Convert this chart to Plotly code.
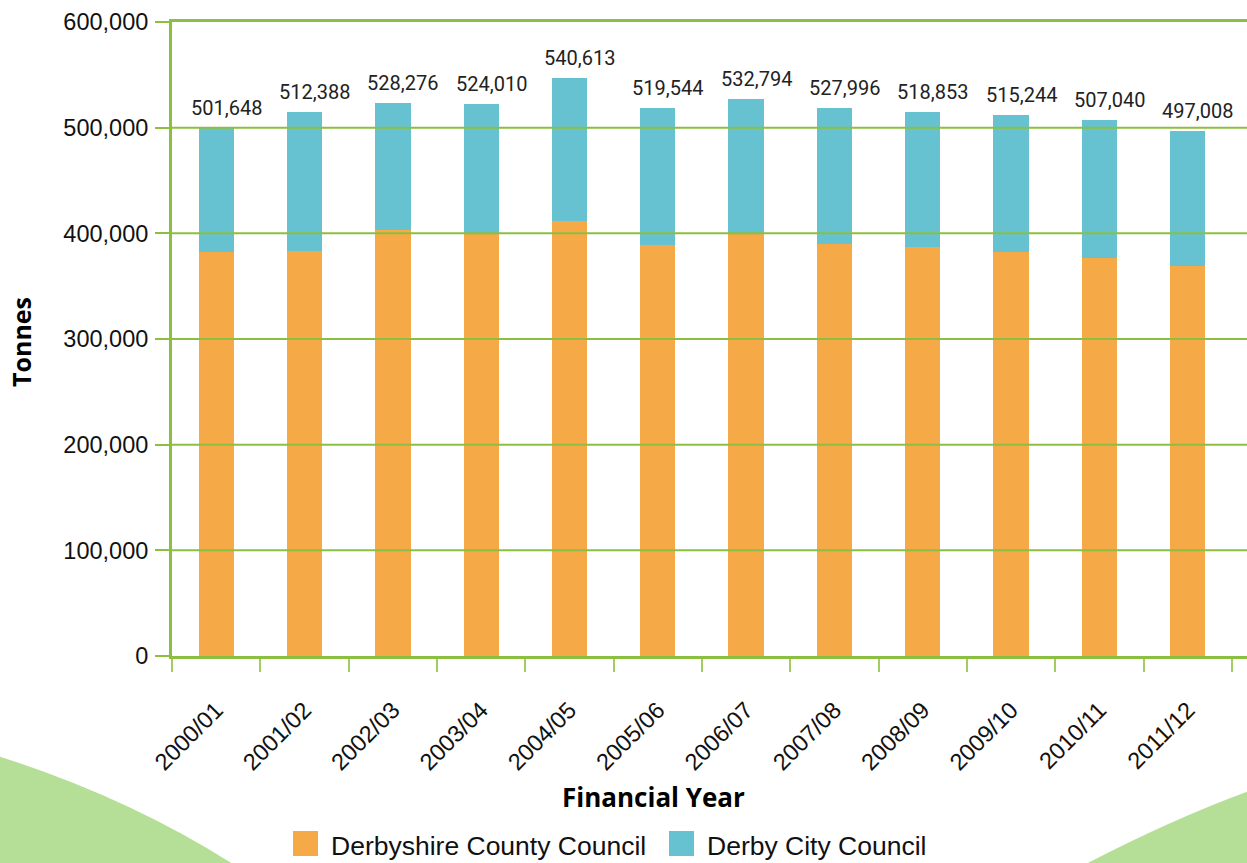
import plotly.graph_objects as go

years = ["2000/01", "2001/02", "2002/03", "2003/04", "2004/05", "2005/06",
         "2006/07", "2007/08", "2008/09", "2009/10", "2010/11", "2011/12"]
derbyshire = [382600, 383600, 403100, 399300, 411700, 388900,
              400000, 390200, 387100, 382600, 376900, 369400]
derby_city = [117400, 131200, 119900, 123000, 135600, 129700,
              127100, 128700, 127700, 129400, 130300, 127400]
total_labels = ["501,648", "512,388", "528,276", "524,010", "540,613", "519,544",
                "532,794", "527,996", "518,853", "515,244", "507,040", "497,008"]
y_ticks = [0, 100000, 200000, 300000, 400000, 500000, 600000]

# body margin is removed by post_script, so the figure fills the page
W, H = 1247, 863
PL, PT, PR, PB = 172, 22, 1247, 656          # plot area in page pixels
L, T = PL, PT
R, B = W - PR, H - PB
PW, PH = PR - PL, PB - PT

def px(x):
    return (x - PL) / PW

def py(y):
    return (PB - y) / PH

GREEN = "#8CBF3F"
TICKGREEN = "#A3CE5E"
ORANGE = "#F5A947"
TEAL = "#66C2D1"
LIGHTGREEN = "#B5DF97"

fig = go.Figure()
fig.add_trace(go.Bar(x=years, y=derbyshire, name="Derbyshire County Council",
                     marker=dict(color=ORANGE, line=dict(width=0)), width=0.4))
fig.add_trace(go.Bar(x=years, y=derby_city, name="Derby City Council",
                     marker=dict(color=TEAL, line=dict(width=0)), width=0.4))

annotations = []
for yr, a, b, lab in zip(years, derbyshire, derby_city, total_labels):
    annotations.append(dict(x=yr, y=a + b, xref="x", yref="y", text=lab,
                            showarrow=False, yanchor="bottom", yshift=6, xshift=10,
                            font=dict(family="Roboto", size=20, color="#222222")))

# axis titles
annotations.append(dict(x=px(653), y=py(797), xref="paper", yref="paper",
                        text="<b>Financial Year</b>", showarrow=False,
                        xanchor="center", yanchor="middle",
                        font=dict(family="Open Sans", size=26, color="#000000")))
annotations.append(dict(x=px(21), y=py(342), xref="paper", yref="paper",
                        text="<b>Tonnes</b>", showarrow=False, textangle=-90,
                        xanchor="center", yanchor="middle",
                        font=dict(family="Open Sans", size=25, color="#000000")))

# manual legend
legend_items = [("Derbyshire County Council", ORANGE, 293), ("Derby City Council", TEAL, 669)]
shapes = []
for name, col, x0 in legend_items:
    shapes.append(dict(type="rect", xref="paper", yref="paper",
                       x0=px(x0), x1=px(x0 + 25), y0=py(856), y1=py(831),
                       fillcolor=col, line=dict(width=0), layer="above"))
    annotations.append(dict(x=px(x0 + 36), y=py(846), xref="paper", yref="paper",
                            text=name, showarrow=False, xanchor="left", yanchor="middle",
                            font=dict(family="Liberation Sans", size=26.5, color="#111111")))

# decorative background curves
left_path = "M {} {} Q {} {} {} {} L {} {} Z".format(
    px(-2), py(756), px(130), py(798), px(236), py(866), px(-2), py(866))
right_path = "M {} {} Q {} {} {} {} L {} {} Z".format(
    px(1082), py(866), px(1170), py(820), px(1249), py(791), px(1249), py(866))
for p in (left_path, right_path):
    shapes.append(dict(type="path", xref="paper", yref="paper", path=p,
                       fillcolor=LIGHTGREEN, line=dict(width=0), layer="below"))

# gridlines drawn above bars
for v in y_ticks[1:-1]:
    shapes.append(dict(type="line", xref="paper", yref="y", x0=0, x1=1, y0=v, y1=v,
                       line=dict(color=GREEN, width=2), layer="above"))

fig.update_layout(
    width=W, height=H,
    margin=dict(l=L, r=R, t=T, b=B, pad=0),
    paper_bgcolor="white", plot_bgcolor="white",
    barmode="stack", showlegend=False,
    annotations=annotations, shapes=shapes,
    font=dict(family="Liberation Sans", color="#111111"),
)
fig.update_xaxes(
    type="category", range=[-0.5, 11.67],
    showline=True, linecolor=GREEN, linewidth=3, mirror=True,
    ticks="outside", tickson="boundaries", ticklen=13, tickwidth=2, tickcolor=TICKGREEN,
    tickangle=-45, tickfont=dict(family="Liberation Sans", size=23.5, color="#111111"),
    ticklabelstandoff=28, showgrid=False, zeroline=False,
)
fig.update_yaxes(
    range=[0, 600000], tickvals=y_ticks, tickformat=",d",
    showline=True, linecolor=GREEN, linewidth=3,
    ticks="outside", ticklen=14, tickwidth=2, tickcolor=GREEN,
    tickfont=dict(family="Liberation Sans", size=23.5, color="#111111"),
    ticklabelstandoff=2, showgrid=False, zeroline=False,
)

fig.write_html("out.html", config={"displayModeBar": False},
               post_script="document.body.style.margin='0px';document.body.style.overflow='hidden';")
